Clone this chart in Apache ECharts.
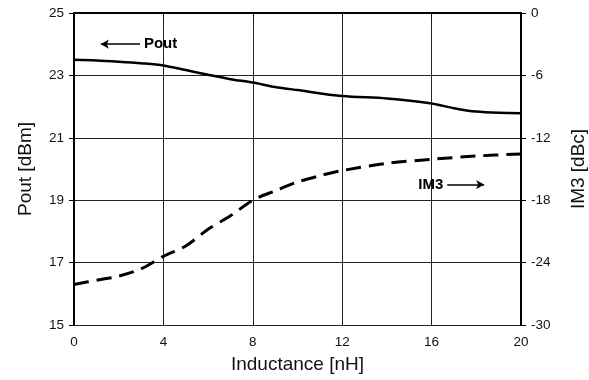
<!DOCTYPE html>
<html>
<head>
<meta charset="utf-8">
<script src="https://cdn.jsdelivr.net/npm/echarts@6/dist/echarts.min.js"></script>
<style>html,body{margin:0;padding:0;background:#fff}#c{width:589px;height:380px}</style>
</head>
<body>
<div id="c"></div>
<script>
var xTicks = [0, 4, 8, 12, 16, 20];
var poutX = [0, 1, 2, 3, 4, 5, 6, 7, 8, 9, 10, 12, 14, 16, 17, 18, 19, 20];
var poutY = [23.5, 23.48, 23.44, 23.39, 23.32, 23.17, 23.02, 22.88, 22.77, 22.63, 22.53, 22.34, 22.26, 22.1, 21.95, 21.84, 21.8, 21.79];
var im3X = [0, 1, 2, 3, 4, 5, 6, 7, 8, 9, 10, 11, 12, 14, 16, 18, 20];
var im3Y = [-26.1, -25.7, -25.3, -24.6, -23.4, -22.4, -20.8, -19.5, -18.0, -17.1, -16.25, -15.65, -15.15, -14.45, -14.07, -13.75, -13.56];
var poutArrow = { x0: 2.95, x1: 1.2, y: 24.0, text: 'Pout' };
var im3Arrow = { x0: 16.7, x1: 18.35, y: -16.5, text: 'IM3' };

function pairs(xs, ys) { return xs.map(function (x, i) { return [x, ys[i]]; }); }

var font = 'Liberation Sans, Arial, sans-serif';
var chart = echarts.init(document.getElementById('c'));
chart.setOption({
  animation: false,
  backgroundColor: '#fff',
  grid: { left: 74, right: 68, top: 13, bottom: 55, containLabel: false, outerBoundsMode: 'none' },
  xAxis: {
    type: 'value', min: 0, max: 20, interval: 4,
    name: 'Inductance [nH]', nameLocation: 'middle', nameGap: 30,
    nameTextStyle: { fontFamily: font, fontSize: 19, color: '#111' },
    axisLine: { lineStyle: { color: '#000', width: 2 } },
    axisTick: { show: true, length: 4, lineStyle: { color: '#000', width: 1 } },
    axisLabel: { fontFamily: font, fontSize: 13.5, color: '#111', margin: 10 },
    splitLine: { show: true, lineStyle: { color: '#222', width: 1 } }
  },
  yAxis: [{
    type: 'value', min: 15, max: 25, interval: 2, position: 'left',
    name: 'Pout [dBm]', nameLocation: 'middle', nameGap: 39, nameRotate: 90,
    nameTextStyle: { fontFamily: font, fontSize: 19, color: '#111' },
    axisLine: { show: true, lineStyle: { color: '#000', width: 2 } },
    axisTick: { show: true, length: 5, lineStyle: { color: '#000', width: 1 } },
    axisLabel: { fontFamily: font, fontSize: 13.5, color: '#111', margin: 10 },
    splitLine: { show: true, lineStyle: { color: '#222', width: 1 } }
  }, {
    type: 'value', min: -30, max: 0, interval: 6, position: 'right',
    name: 'IM3 [dBc]', nameLocation: 'middle', nameGap: 48, nameRotate: 90,
    nameTextStyle: { fontFamily: font, fontSize: 19, color: '#111' },
    axisLine: { show: true, lineStyle: { color: '#000', width: 2 } },
    axisTick: { show: true, length: 5, lineStyle: { color: '#000', width: 1 } },
    axisLabel: { fontFamily: font, fontSize: 13.5, color: '#111', margin: 10 },
    splitLine: { show: false }
  }],
  series: [{
    type: 'line', name: 'Pout', yAxisIndex: 0, smooth: 0.3, showSymbol: false,
    data: pairs(poutX, poutY),
    lineStyle: { color: '#000', width: 2.5 },
    markLine: {
      silent: true, symbol: ['none', 'arrow'], symbolSize: [7, 8],
      lineStyle: { color: '#000', width: 1.5, type: 'solid' },
      label: { show: true, position: 'start', formatter: poutArrow.text, fontFamily: font, fontSize: 15, fontWeight: 'bold', color: '#000', distance: 4 },
      data: [[{ coord: [poutArrow.x0, poutArrow.y] }, { coord: [poutArrow.x1, poutArrow.y] }]]
    }
  }, {
    type: 'line', name: 'IM3', yAxisIndex: 1, smooth: 0.3, showSymbol: false,
    data: pairs(im3X, im3Y),
    lineStyle: { color: '#000', width: 3, type: [15, 8] },
    markLine: {
      silent: true, symbol: ['none', 'arrow'], symbolSize: [7, 8],
      lineStyle: { color: '#000', width: 1.5, type: 'solid' },
      label: { show: true, position: 'start', formatter: im3Arrow.text, fontFamily: font, fontSize: 15, fontWeight: 'bold', color: '#000', distance: 4 },
      data: [[{ coord: [im3Arrow.x0, im3Arrow.y] }, { coord: [im3Arrow.x1, im3Arrow.y] }]]
    }
  }]
});
</script>
</body>
</html>
